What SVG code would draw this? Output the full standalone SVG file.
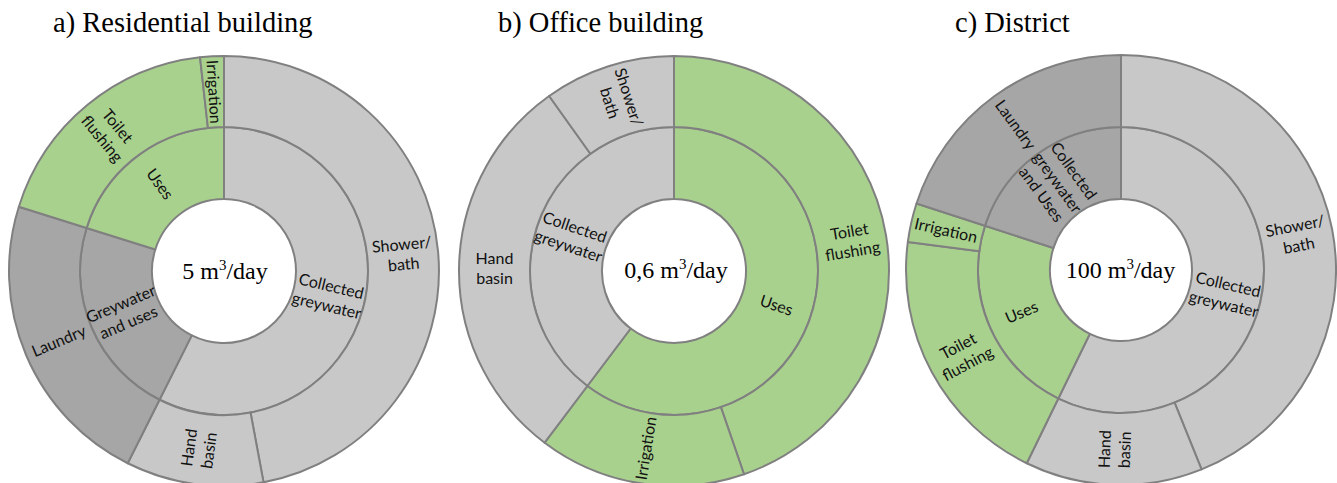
<svg xmlns="http://www.w3.org/2000/svg" width="1337" height="483" viewBox="0 0 1337 483">
<style>
.lt{fill:#c8c8c8}
.dk{fill:#a6a6a6}
.gr{fill:#a9d18e}
.seg path{stroke:#808080;stroke-width:2;stroke-linejoin:round}
.lb{font-family:Lato,"Open Sans",sans-serif;font-size:16px;fill:#111;text-anchor:middle}
.ttl{font-family:"Liberation Serif","Times New Roman",serif;font-size:28.5px;fill:#000}
.ctr{font-family:"Liberation Serif","Times New Roman",serif;font-size:24px;fill:#000;text-anchor:middle}
</style>
<rect width="1337" height="483" fill="#fff"/>

<g id="chart-a">
<text class="ttl" x="53" y="32">a) Residential building</text>
<g class="seg">
<path id="a-collected" class="lt" d="M 224 127 A 144 144 0 1 1 159.52 399.76 L 191.76 335.38 A 72 72 0 1 0 224 199 Z"/>
<path id="a-greyuses" class="dk" d="M 159.52 399.76 A 144 144 0 0 1 86.6 227.94 L 155.3 249.47 A 72 72 0 0 0 191.76 335.38 Z"/>
<path id="a-uses" class="gr" d="M 86.6 227.94 A 144 144 0 0 1 224 127 L 224 199 A 72 72 0 0 0 155.3 249.47 Z"/>
<path id="a-shower" class="lt" d="M 224 56 A 215 215 0 0 1 263.56 482.32 L 250.5 412.54 A 144 144 0 0 0 224 127 Z"/>
<path id="a-hand" class="lt" d="M 263.56 482.32 A 215 215 0 0 1 127.72 463.25 L 159.52 399.76 A 144 144 0 0 0 250.5 412.54 Z"/>
<path id="a-laundry" class="dk" d="M 127.72 463.25 A 215 215 0 0 1 18.85 206.71 L 86.6 227.94 A 144 144 0 0 0 159.52 399.76 Z"/>
<path id="a-toilet" class="gr" d="M 18.85 206.71 A 215 215 0 0 1 200.03 57.33 L 207.94 127.89 A 144 144 0 0 0 86.6 227.94 Z"/>
<path id="a-irrigation" class="gr" d="M 200.03 57.33 A 215 215 0 0 1 224 56 L 224 127 A 144 144 0 0 0 207.94 127.89 Z"/>
</g>
<text class="ctr" x="225" y="279">5 m<tspan dy="-9" font-size="15">3</tspan><tspan dy="9">/day</tspan></text>
<text class="lb" transform="translate(214,91.8) rotate(86.8)" y="5.6">Irrigation</text>
<text class="lb" transform="translate(109.8,132.4) rotate(50.5)"><tspan x="0" y="-4.4">Toilet</tspan><tspan x="0" y="15.6">flushing</tspan></text>
<text class="lb" transform="translate(160,184) rotate(53.7)" y="5.6">Uses</text>
<text class="lb" transform="translate(58.8,341) rotate(-23)" y="5.6">Laundry</text>
<text class="lb" transform="translate(124.6,313.2) rotate(-23)"><tspan x="0" y="-4.4">Greywater</tspan><tspan x="0" y="15.6">and uses</tspan></text>
<text class="lb" transform="translate(329,296) rotate(13.3)"><tspan x="0" y="-4.4">Collected</tspan><tspan x="0" y="15.6">greywater</tspan></text>
<text class="lb" transform="translate(402.7,254.4) rotate(-5.3)"><tspan x="0" y="-4.4">Shower/</tspan><tspan x="0" y="15.6">bath</tspan></text>
<text class="lb" transform="translate(199,449) rotate(-82)"><tspan x="0" y="-4.4">Hand</tspan><tspan x="0" y="15.6">basin</tspan></text>
</g>

<g id="chart-b">
<text class="ttl" x="498" y="32">b) Office building</text>
<g class="seg">
<path id="b-uses" class="gr" d="M 674 127 A 144 144 0 1 1 587.34 386 L 630.67 328.5 A 72 72 0 1 0 674 199 Z"/>
<path id="b-collected" class="lt" d="M 587.34 386 A 144 144 0 0 1 674 127 L 674 199 A 72 72 0 0 0 630.67 328.5 Z"/>
<path id="b-toilet" class="gr" d="M 674 56 A 215 215 0 0 1 744 474.28 L 720.89 407.15 A 144 144 0 0 0 674 127 Z"/>
<path id="b-irrigation" class="gr" d="M 744 474.28 A 215 215 0 0 1 544.61 442.7 L 587.34 386 A 144 144 0 0 0 720.89 407.15 Z"/>
<path id="b-hand" class="lt" d="M 544.61 442.7 A 215 215 0 0 1 549.15 95.97 L 590.38 153.77 A 144 144 0 0 0 587.34 386 Z"/>
<path id="b-shower" class="lt" d="M 549.15 95.97 A 215 215 0 0 1 674 56 L 674 127 A 144 144 0 0 0 590.38 153.77 Z"/>
</g>
<text class="ctr" x="676" y="278">0,6 m<tspan dy="-9" font-size="15">3</tspan><tspan dy="9">/day</tspan></text>
<text class="lb" transform="translate(619.3,100) rotate(72.2)"><tspan x="0" y="-4.4">Shower/</tspan><tspan x="0" y="15.6">bath</tspan></text>
<text class="lb" transform="translate(494.5,268.7)"><tspan x="0" y="-4.4">Hand</tspan><tspan x="0" y="15.6">basin</tspan></text>
<text class="lb" transform="translate(571.6,236.7) rotate(18.5)"><tspan x="0" y="-4.4">Collected</tspan><tspan x="0" y="15.6">greywater</tspan></text>
<text class="lb" transform="translate(776.4,305.3) rotate(18.5)" y="5.6">Uses</text>
<text class="lb" transform="translate(851,241.4) rotate(-9.5)"><tspan x="0" y="-4.4">Toilet</tspan><tspan x="0" y="15.6">flushing</tspan></text>
<text class="lb" transform="translate(646,448.3) rotate(-81)" y="5.6">Irrigation</text>
</g>

<g id="chart-c">
<text class="ttl" x="955" y="32">c) District</text>
<g class="seg">
<path id="c-collected" class="lt" d="M 1121 127 A 143 143 0 1 1 1058.31 398.53 L 1089.87 333.81 A 71 71 0 1 0 1121 199 Z"/>
<path id="c-uses" class="gr" d="M 1058.31 398.53 A 143 143 0 0 1 984.99 225.81 L 1053.47 248.06 A 71 71 0 0 0 1089.87 333.81 Z"/>
<path id="c-cgu" class="dk" d="M 984.99 225.81 A 143 143 0 0 1 1121 127 L 1121 199 A 71 71 0 0 0 1053.47 248.06 Z"/>
<path id="c-shower" class="lt" d="M 1121 55 A 215 215 0 0 1 1201.54 469.35 L 1174.57 402.59 A 143 143 0 0 0 1121 127 Z"/>
<path id="c-hand" class="lt" d="M 1201.54 469.35 A 215 215 0 0 1 1026.74 463.24 L 1058.31 398.53 A 143 143 0 0 0 1174.57 402.59 Z"/>
<path id="c-toilet" class="gr" d="M 1026.74 463.24 A 215 215 0 0 1 907.85 241.94 L 979.23 251.34 A 143 143 0 0 0 1058.31 398.53 Z"/>
<path id="c-irrigation" class="gr" d="M 907.85 241.94 A 215 215 0 0 1 916.51 203.56 L 984.99 225.81 A 143 143 0 0 0 979.23 251.34 Z"/>
<path id="c-laundry" class="dk" d="M 916.51 203.56 A 215 215 0 0 1 1121 55 L 1121 127 A 143 143 0 0 0 984.99 225.81 Z"/>
</g>
<text class="ctr" x="1120.5" y="278">100 m<tspan dy="-9" font-size="15">3</tspan><tspan dy="9">/day</tspan></text>
<text class="lb" transform="translate(1015.5,124.8) rotate(54)" y="5.6">Laundry</text>
<text class="lb" transform="translate(1057.5,182.6) rotate(54)"><tspan x="0" y="-14.4">Collected</tspan><tspan x="0" y="5.6">greywater</tspan><tspan x="0" y="25.6">and Uses</tspan></text>
<text class="lb" transform="translate(946,230.4) rotate(12.75)" y="5.6">Irrigation</text>
<text class="lb" transform="translate(962.9,354.9) rotate(-28.25)"><tspan x="0" y="-4.4">Toilet</tspan><tspan x="0" y="15.6">flushing</tspan></text>
<text class="lb" transform="translate(1021.6,312.2) rotate(-23)" y="5.6">Uses</text>
<text class="lb" transform="translate(1114.7,449.4) rotate(-88)"><tspan x="0" y="-4.4">Hand</tspan><tspan x="0" y="15.6">basin</tspan></text>
<text class="lb" transform="translate(1226,294.3) rotate(13)"><tspan x="0" y="-4.4">Collected</tspan><tspan x="0" y="15.6">greywater</tspan></text>
<text class="lb" transform="translate(1297,235.8) rotate(-11)"><tspan x="0" y="-4.4">Shower/</tspan><tspan x="0" y="15.6">bath</tspan></text>
</g>
</svg>
